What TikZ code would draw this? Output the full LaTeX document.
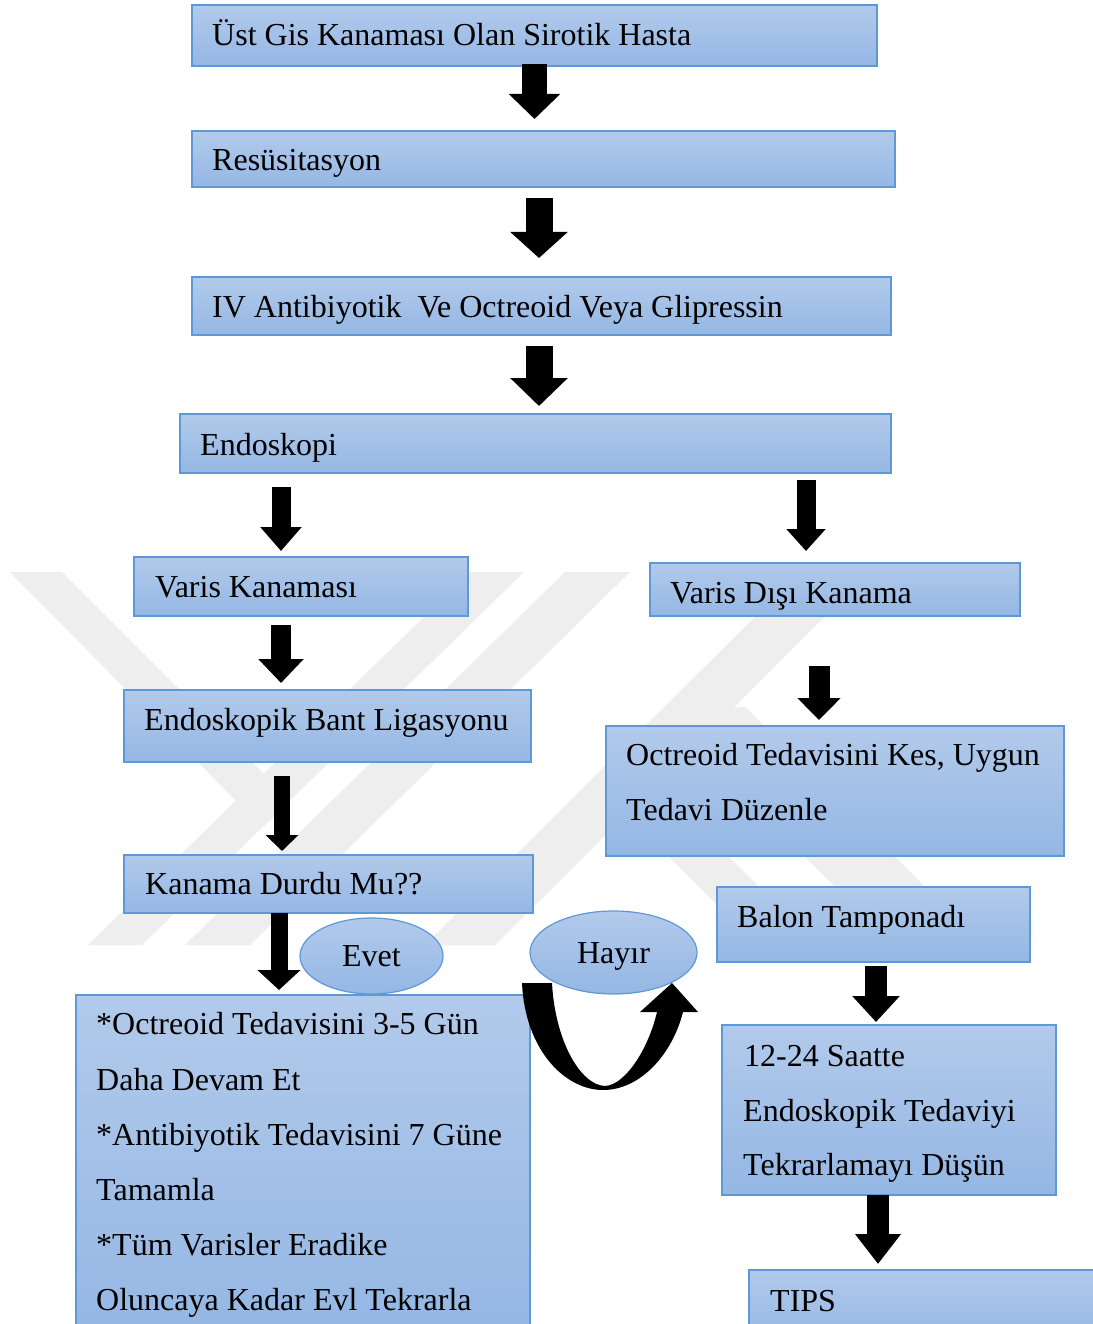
\documentclass[tikz,border=0pt]{standalone}
\usepackage{fontspec}
\setmainfont{Liberation Serif}
\usetikzlibrary{arrows.meta,shapes.geometric,calc}
\definecolor{boxtop}{RGB}{178,202,235}
\definecolor{boxbot}{RGB}{148,183,228}
\definecolor{boxline}{RGB}{95,152,214}
\definecolor{wm}{RGB}{238,238,238}
\tikzset{
  box/.style={draw=boxline, line width=1.5pt, top color=boxtop, bottom color=boxbot,
    rectangle, inner sep=0pt, outer sep=0pt, anchor=north west},
  txt/.style={inner sep=0pt, anchor=base west, font=\fontsize{32}{38}\selectfont},
  oval/.style={ellipse, draw=boxline, line width=1.2pt, top color=boxtop, bottom color=boxbot,
    inner sep=0pt, text height=21pt, text depth=0pt, font=\fontsize{32}{38}\selectfont},
  blk/.style n args={3}{draw=black, line width=#1, -{Triangle[width=#2,length=#3]}},
}
\begin{document}
\begin{tikzpicture}[x=1pt,y=-1pt]
\useasboundingbox (0,0) rectangle (1092,1324);
\fill[white] (0,0) rectangle (1092,1324);
% faint watermark
\begin{scope}
  \clip (0,572) rectangle (1092,945);
  \fill[wm] (88,945) -- (142,945) -- (524,572) -- (470,572) -- cycle;
  \fill[wm] (10,572) -- (62,572) -- (280,790) -- (250,815) -- cycle;
  \fill[wm] (185,945) -- (250,945) -- (630,572) -- (565,572) -- cycle;
  \fill[wm] (425,945) -- (495,945) -- (870,572) -- (800,572) -- cycle;
  \fill[wm] (594,782) -- (654,782) -- (817,945) -- (757,945) -- cycle;
  \fill[wm] (660,712) -- (745,707) -- (983,945) -- (893,945) -- cycle;
\end{scope}
% boxes
\node[box, minimum width=685pt, minimum height=61pt]  (b1)  at (192,5)    {};
\node[box, minimum width=703pt, minimum height=56pt]  (b2)  at (192,131)  {};
\node[box, minimum width=699pt, minimum height=58pt]  (b3)  at (192,277)  {};
\node[box, minimum width=711pt, minimum height=59pt]  (b4)  at (180,414)  {};
\node[box, minimum width=334pt, minimum height=59pt]  (b5)  at (134,557)  {};
\node[box, minimum width=370pt, minimum height=53pt]  (b6)  at (650,563)  {};
\node[box, minimum width=407pt, minimum height=72pt]  (b7)  at (124,690)  {};
\node[box, minimum width=458pt, minimum height=130pt] (b8)  at (606,726)  {};
\node[box, minimum width=409pt, minimum height=58pt]  (b9)  at (124,855)  {};
\node[box, minimum width=313pt, minimum height=75pt]  (b10) at (717,887)  {};
\node[box, minimum width=454pt, minimum height=340pt] (b11) at (76,995)   {};
\node[box, minimum width=334pt, minimum height=170pt] (b12) at (722,1025) {};
\node[box, minimum width=360pt, minimum height=70pt]  (b13) at (749,1270) {};
% texts
\node[txt] (t1)  at (212,46)  {Üst Gis Kanaması Olan Sirotik Hasta};
\node[txt] (t2)  at (212,171) {Resüsitasyon};
\node[txt] (t3)  at (212,317) {IV Antibiyotik\ \ Ve Octreoid Veya Glipressin};
\node[txt] (t4)  at (200,455) {Endoskopi};
\node[txt] (t5)  at (155,597) {Varis Kanaması};
\node[txt] (t6)  at (670,603) {Varis Dışı Kanama};
\node[txt] (t7)  at (144,730) {Endoskopik Bant Ligasyonu};
\node[txt] (t8a) at (626,765) {Octreoid Tedavisini Kes, Uygun};
\node[txt] (t8b) at (626,820) {Tedavi Düzenle};
\node[txt] (t9)  at (145,894) {Kanama Durdu Mu??};
\node[txt] (t10) at (737,927) {Balon Tamponadı};
\node[txt] (t11a) at (96,1034) {*Octreoid Tedavisini 3-5 Gün};
\node[txt] (t11b) at (96,1090) {Daha Devam Et};
\node[txt] (t11c) at (96,1145) {*Antibiyotik Tedavisini 7 Güne};
\node[txt] (t11d) at (96,1200) {Tamamla};
\node[txt] (t11e) at (96,1255) {*Tüm Varisler Eradike};
\node[txt] (t11f) at (96,1310) {Oluncaya Kadar Evl Tekrarla};
\node[txt] (t12a) at (744,1066) {12-24 Saatte};
\node[txt] (t12b) at (743,1121) {Endoskopik Tedaviyi};
\node[txt] (t12c) at (743,1175) {Tekrarlamayı Düşün};
\node[txt] (t13) at (770,1311) {TIPS};
% ovals
\node[oval, minimum width=143pt, minimum height=76pt] (evet)  at (371.5,956) {Evet};
\node[oval, minimum width=167pt, minimum height=83pt] (hayir) at (613.5,952.5) {Hayır};
% arrow columns
\coordinate (c1) at (534.5,0);
\coordinate (c2) at (539,0);
\coordinate (c4) at (281,0);
\coordinate (c5) at (806,0);
\coordinate (c7) at (282,0);
\coordinate (c8) at (819,0);
\coordinate (c9) at (279,0);
\coordinate (c10) at (876,0);
\coordinate (c11) at (878,0);
% block arrows
\draw[blk={25pt}{50pt}{25pt}] ($(b1.south -| c1)+(0,-2)$) -- ($(b2.north -| c1)+(0,-12)$);
\draw[blk={27pt}{56pt}{26pt}] ($(b2.south -| c2)+(0,11)$) -- ($(b3.north -| c2)+(0,-19)$);
\draw[blk={27pt}{56pt}{28pt}] ($(b3.south -| c2)+(0,11)$) -- ($(b4.north -| c2)+(0,-8)$);
\draw[blk={19pt}{40pt}{24pt}] ($(b4.south -| c4)+(0,14)$) -- ($(b5.north -| c4)+(0,-6)$);
\draw[blk={19pt}{38pt}{22pt}] ($(b4.south -| c5)+(0,7)$)  -- ($(b6.north -| c5)+(0,-12)$);
\draw[blk={20pt}{44pt}{24pt}] ($(b5.south -| c4)+(0,9)$)  -- ($(b7.north -| c4)+(0,-7)$);
\draw[blk={16pt}{32pt}{16pt}] ($(b7.south -| c7)+(0,14)$) -- ($(b9.north -| c7)+(0,-4)$);
\draw[blk={21pt}{42pt}{22pt}] ($(b6.south -| c8)+(0,50)$) -- ($(b8.north -| c8)+(0,-6)$);
\draw[blk={17pt}{42pt}{20pt}] (b9.south -| c9) -- ($(b11.north -| c9)+(0,-5)$);
\draw[blk={22pt}{46pt}{26pt}] ($(b10.south -| c10)+(0,4)$) -- ($(b12.north -| c10)+(0,-3)$);
\draw[blk={22pt}{44pt}{30pt}] (b12.south -| c11) -- ($(b13.north -| c11)+(0,-6)$);
% U-turn arrow
\fill[black] (522,983) .. controls (525,1050) and (565,1090) .. (603,1090)
  .. controls (640,1090) and (672,1055) .. (683,1012)
  -- (698,1012) -- (672,983) -- (640,1012) -- (657,1012)
  .. controls (648,1050) and (625,1085) .. (605,1086)
  .. controls (580,1085) and (555,1040) .. (552,983) -- cycle;
\end{tikzpicture}
\end{document}
